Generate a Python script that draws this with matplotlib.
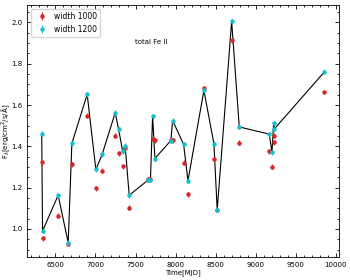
import matplotlib
matplotlib.use("Agg")
import matplotlib.pyplot as plt
from matplotlib.ticker import AutoMinorLocator

# observation epochs (MJD)
mjd = [6330, 6340, 6535, 6660, 6706, 6897, 7005, 7084, 7246, 7289, 7339,
       7371, 7421, 7658, 7686, 7713, 7742, 7941, 7963, 8100, 8154, 8353,
       8478, 8519, 8699, 8794, 9168, 9202, 9223, 9231, 9855]

# total Fe II flux, integration width 1000
flux_w1000 = [1.322, 0.955, 1.063, 0.928, 1.313, 1.547, 1.197, 1.282, 1.451,
              1.366, 1.304, 1.393, 1.103, 1.240, 1.240, 1.436, 1.430, 1.430,
              1.430, 1.320, 1.168, 1.680, 1.337, 1.092, 1.913, 1.417, 1.377,
              1.301, 1.452, 1.419, 1.663]

# total Fe II flux, integration width 1200
flux_w1200 = [1.462, 0.990, 1.163, 0.934, 1.414, 1.652, 1.288, 1.361, 1.562,
              1.483, 1.377, 1.402, 1.163, 1.237, 1.237, 1.546, 1.341, 1.428,
              1.525, 1.409, 1.233, 1.671, 1.412, 1.092, 2.005, 1.494, 1.459,
              1.372, 1.513, 1.484, 1.760]

err = 0.012

plt.rcParams["font.size"] = 5

fig = plt.figure(figsize=(3.5, 2.8), dpi=100)
ax = fig.add_axes([0.078, 0.082, 0.891, 0.900])

ax.plot(mjd, flux_w1200, color="black", lw=0.8, zorder=1)
ax.errorbar(mjd, flux_w1000, yerr=err, fmt="o", ms=2.2, color="#d62728",
            elinewidth=0.8, capsize=0, label="width 1000", zorder=2)
ax.errorbar(mjd, flux_w1200, yerr=err, fmt="o", ms=2.2, color="#17becf",
            elinewidth=0.8, capsize=0, label="width 1200", zorder=3)

ax.text(0.345, 0.845, "total Fe II", transform=ax.transAxes, fontsize=5)

ax.set_xlim(6150, 10040)
ax.set_ylim(0.864, 2.084)
ax.xaxis.set_minor_locator(AutoMinorLocator())
ax.yaxis.set_minor_locator(AutoMinorLocator())
ax.tick_params(which="both", direction="in", top=True, right=True, labelsize=5,
               width=0.6)
ax.tick_params(which="major", length=3)
ax.tick_params(which="minor", length=1.6)
for s in ax.spines.values():
    s.set_linewidth(0.6)

ax.set_xlabel("Time[MJD]", fontsize=5, labelpad=1)
ax.set_ylabel(r"F$_{\lambda}$[erg/cm$^2$/s/Å]", fontsize=5)
ax.yaxis.set_label_coords(-0.048, 0.5)
ax.legend(loc="upper left", fontsize=5.5, handletextpad=0.6,
          borderpad=0.4, labelspacing=0.5)

fig.savefig("out.png", dpi=100)
